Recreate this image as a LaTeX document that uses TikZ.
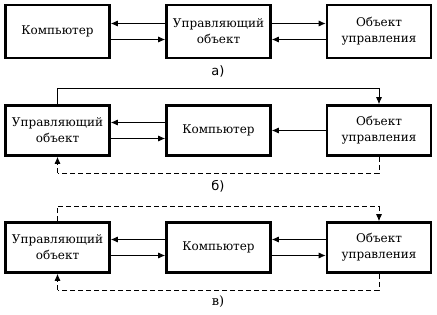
\documentclass[tikz,border=0pt]{standalone}
\usepackage{fontspec}
\setmainfont{DejaVu Serif}
\newfontfamily\labsans{DejaVu Sans}
\usetikzlibrary{arrows.meta}
\begin{document}
\begin{tikzpicture}[x=1pt,y=-1pt,
  box/.style={draw,line width=2.6pt,minimum width=104pt,minimum height=50pt,align=center,inner sep=0pt,font=\fontsize{12}{16}\selectfont},
  tip/.tip={Latex[length=7pt,width=6pt]},
  arr/.style={line width=0.8pt,-tip},
  fb/.style={line width=0.8pt},
  fbd/.style={line width=0.8pt,dash pattern=on 5pt off 3pt},
  lab/.style={font=\fontsize{13}{15}\selectfont}]
\useasboundingbox (0,0) rectangle (437,315);
% row a
\node[box,minimum height=53pt] (a1) at (57.5,31.5) {Компьютер};
\node[box,minimum height=53pt] (a2) at (218.5,31.5) {Управляющий\\объект};
\node[box,minimum height=53pt] (a3) at (379,31.5) {Объект\\управления};
\draw[arr] ([yshift=8pt]a2.west) -- ([yshift=8pt]a1.east);
\draw[arr] ([yshift=-8pt]a1.east) -- ([yshift=-8pt]a2.west);
\draw[arr] ([yshift=8pt]a2.east) -- ([yshift=8pt]a3.west);
\draw[arr] ([yshift=-8pt]a3.west) -- ([yshift=-8pt]a2.east);
\node[lab,font=\labsans\fontsize{13}{15}\selectfont] (la) at (218,71) {а)};
% row b
\node[box] (b1) at (57.5,130.5) {Управляющий\\объект};
\node[box] (b2) at (218.5,130.5) {Компьютер};
\node[box] (b3) at (379,130.5) {Объект\\управления};
\draw[arr] ([yshift=8pt]b2.west) -- ([yshift=8pt]b1.east);
\draw[arr] ([yshift=-8pt]b1.east) -- ([yshift=-8pt]b2.west);
\draw[arr] (b3.west) -- (b2.east);
\coordinate (bt) at (0,88);
\coordinate (bb) at (0,173);
\draw[fb] (b1.north) |- (bt -| b3.north);
\draw[arr] (bt -| b3.north) -- (b3.north);
\draw[fbd] (b3.south) |- (bb -| b1.south);
\draw[fbd,-tip] (bb -| b1.south) -- (b1.south);
\node[lab,font=\labsans\fontsize{13}{15}\selectfont] (lb) at (218,186) {б)};
% row c
\node[box] (c1) at (57.5,247.5) {Управляющий\\объект};
\node[box] (c2) at (218.5,247.5) {Компьютер};
\node[box] (c3) at (379,247.5) {Объект\\управления};
\draw[arr] ([yshift=8pt]c2.west) -- ([yshift=8pt]c1.east);
\draw[arr] ([yshift=-8pt]c1.east) -- ([yshift=-8pt]c2.west);
\draw[arr] ([yshift=8pt]c3.west) -- ([yshift=8pt]c2.east);
\draw[arr] ([yshift=-8pt]c2.east) -- ([yshift=-8pt]c3.west);
\coordinate (ct) at (0,206);
\coordinate (cb) at (0,290);
\draw[fbd] (c1.north) |- (ct -| c3.north);
\draw[fbd,-tip] (ct -| c3.north) -- (c3.north);
\draw[fbd] (c3.south) |- (cb -| c1.south);
\draw[fbd,-tip] (cb -| c1.south) -- (c1.south);
\node[lab] (lc) at (218,302) {в)};
\end{tikzpicture}
\end{document}
